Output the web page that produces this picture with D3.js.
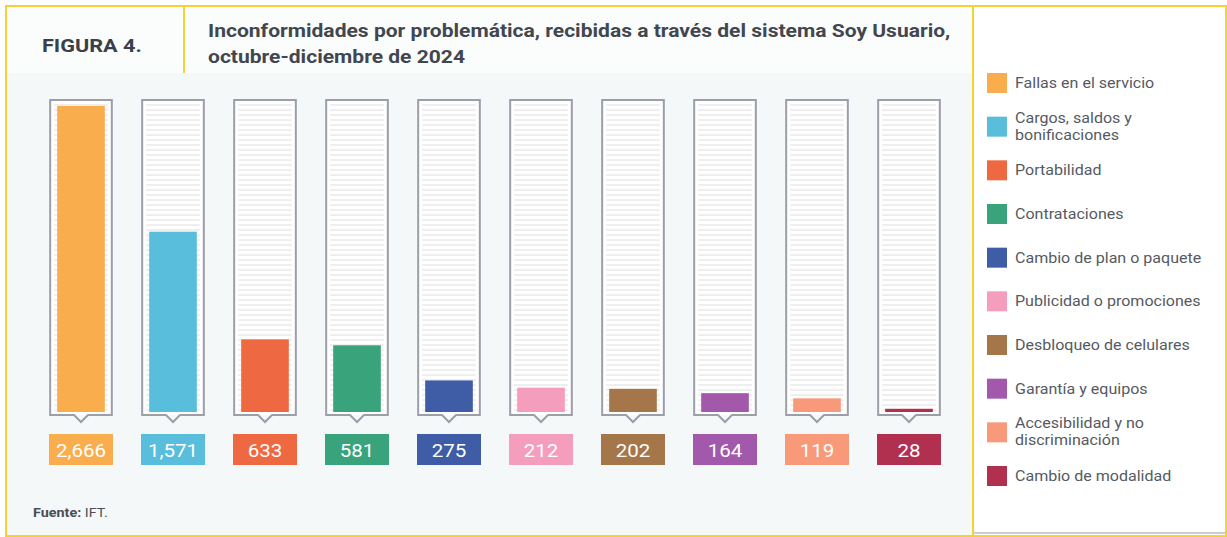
<!DOCTYPE html>
<html>
    <head>
        <meta charset="utf-8">
        <style>
            body { margin: 0; background: #ffffff; }
            svg { display: block; font-family: Roboto, "Noto Sans", sans-serif; }
        </style>
    </head>
    <body>
        <div id="chart"></div>

        <script src="https://cdnjs.cloudflare.com/ajax/libs/d3/7.8.5/d3.min.js"></script>

    <script>
        // datos de la figura
        var categories = ["Fallas en el servicio", "Cargos, saldos y bonificaciones", "Portabilidad",
            "Contrataciones", "Cambio de plan o paquete", "Publicidad o promociones",
            "Desbloqueo de celulares", "Garantía y equipos", "Accesibilidad y no discriminación",
            "Cambio de modalidad"];
        var values = [2666, 1571, 633, 581, 275, 212, 202, 164, 119, 28];
        // etiquetas de leyenda (con salto de linea)
        var legendLabels = [["Fallas en el servicio"], ["Cargos, saldos y", "bonificaciones"], ["Portabilidad"],
            ["Contrataciones"], ["Cambio de plan o paquete"], ["Publicidad o promociones"],
            ["Desbloqueo de celulares"], ["Garantía y equipos"], ["Accesibilidad y no", "discriminación"],
            ["Cambio de modalidad"]];
        var palette = ["#f9ad4d", "#58bedc", "#ee6941", "#39a47b", "#3e5da6", "#f49dbd",
            "#a6764b", "#a259ac", "#f8997a", "#b2304f"];

        (function() {
            var width = 1227,
                height = 537;

            var svg = d3.select("#chart")
                .append("svg")
                .attr("width", width)
                .attr("height", height);

            // fondos
            svg.append("rect").attr("x", 6).attr("y", 6).attr("width", 967).attr("height", 530)
                .attr("fill", "#f4f8f8");
            svg.append("rect").attr("x", 6).attr("y", 6).attr("width", 967).attr("height", 67)
                .attr("fill", "#fbfcfc");
            svg.append("rect").attr("x", 973).attr("y", 6).attr("width", 253).attr("height", 527)
                .attr("fill", "#ffffff");
            svg.append("line").attr("x1", 973).attr("x2", 1226).attr("y1", 533).attr("y2", 533)
                .attr("stroke", "#bdbdbd").attr("stroke-width", 1.5);

            // marco amarillo
            var yellow = "#f5d232";
            svg.append("rect").attr("x", 6).attr("y", 6).attr("width", 1220).attr("height", 530)
                .attr("fill", "none").attr("stroke", yellow).attr("stroke-width", 2);
            svg.append("line").attr("x1", 973).attr("x2", 973).attr("y1", 6).attr("y2", 536)
                .attr("stroke", yellow).attr("stroke-width", 2);
            svg.append("line").attr("x1", 184).attr("x2", 184).attr("y1", 6).attr("y2", 73)
                .attr("stroke", yellow).attr("stroke-width", 2);

            // titulos (la imagen original esta algo estirada en horizontal)
            svg.append("text")
                .attr("transform", "translate(42,52) scale(1.17,1)")
                .attr("font-size", 18.5).attr("font-weight", 700).attr("fill", "#3a3f48")
                .text("FIGURA 4.");
            var title = svg.append("text")
                .attr("transform", "translate(208,0) scale(1.17,1)")
                .attr("font-size", 18).attr("font-weight", 700).attr("fill", "#42474f");
            title.append("tspan").attr("x", 0).attr("y", 37)
                .text("Inconformidades por problemática, recibidas a través del sistema Soy Usuario,");
            title.append("tspan").attr("x", 0).attr("y", 63)
                .text("octubre-diciembre de 2024");

            // escalas
            var x = d3.scaleBand()
                .domain(categories)
                .range([35, 955])
                .paddingInner(0.33)
                .paddingOuter(0.165);

            var y = d3.scaleLinear()
                .domain([0, d3.max(values)])
                .range([412, 106]);

            var color = d3.scaleOrdinal().domain(categories).range(palette);
            var fmt = d3.format(",");

            var data = categories.map(function(c, i) { return { name: c, value: values[i] }; });

            var bw = x.bandwidth();
            var top = 100, bottom = 415;

            var col = svg.selectAll(".col")
                .data(data)
                .enter().append("g")
                .attr("class", "col")
                .attr("transform", function(d) { return "translate(" + x(d.name) + ",0)"; });

            // contenedor
            col.append("rect")
                .attr("x", 0).attr("y", top)
                .attr("width", bw).attr("height", bottom - top)
                .attr("fill", "#ffffff");

            // rayas horizontales
            var stripes = d3.range(top + 5, bottom - 2, 5);
            col.selectAll(".stripe")
                .data(stripes)
                .enter().append("line")
                .attr("x1", 4).attr("x2", bw - 4)
                .attr("y1", function(s) { return s; })
                .attr("y2", function(s) { return s; })
                .attr("stroke", "#dedede").attr("stroke-width", 1);

            // barra
            col.append("rect")
                .attr("x", 7)
                .attr("width", bw - 14)
                .attr("y", function(d) { return Math.min(y(d.value), y(0) - 3); })
                .attr("height", function(d) { return Math.max(y(0) - y(d.value), 3); })
                .attr("fill", function(d) { return color(d.name); });

            // borde con pico
            col.append("path")
                .attr("d", "M0," + top + "H" + bw + "V" + bottom + "H" + (bw / 2 + 7) +
                    "L" + (bw / 2) + "," + (bottom + 7) + "L" + (bw / 2 - 7) + "," + bottom + "H0Z")
                .attr("fill", "none")
                .attr("stroke", "#9c9ea8").attr("stroke-width", 2);

            // caja de valor
            col.append("rect")
                .attr("x", bw / 2 - 32).attr("y", 434)
                .attr("width", 64).attr("height", 31)
                .attr("fill", function(d) { return color(d.name); });
            col.append("text")
                .attr("transform", "translate(" + (bw / 2) + ",457) scale(1.08,1)")
                .attr("text-anchor", "middle")
                .attr("font-size", 19).attr("fill", "#ffffff")
                .text(function(d) { return fmt(d.value); });

            // leyenda
            var ly = d3.scalePoint()
                .domain(categories)
                .range([83, 476]);

            var leg = svg.selectAll(".leg")
                .data(data)
                .enter().append("g")
                .attr("class", "leg")
                .attr("transform", function(d) { return "translate(987," + ly(d.name) + ")"; });

            leg.append("rect")
                .attr("x", 0).attr("y", -10)
                .attr("width", 20).attr("height", 20)
                .attr("fill", function(d) { return color(d.name); });

            leg.append("text")
                .attr("transform", "translate(28,0) scale(1.07,1)")
                .attr("font-size", 15).attr("fill", "#555a62")
                .each(function(d, i) {
                    var lines = legendLabels[i];
                    var t = d3.select(this);
                    var off = lines.length === 1 ? 5 : -4;
                    lines.forEach(function(l, j) {
                        t.append("tspan").attr("x", 0).attr("y", off + j * 17).text(l);
                    });
                });

            // fuente
            var src = svg.append("text")
                .attr("transform", "translate(33,517) scale(1.15,1)")
                .attr("font-size", 12.5).attr("fill", "#4a4f57");
            src.append("tspan").attr("font-weight", 700).text("Fuente:");
            src.append("tspan").text(" IFT.");
        })();
    </script>
    </body>
</html>
